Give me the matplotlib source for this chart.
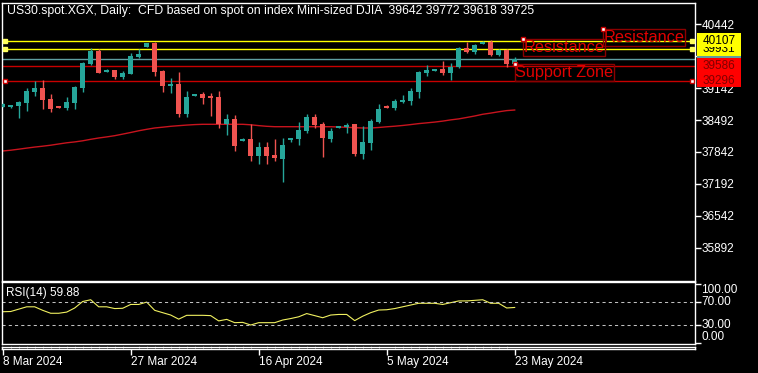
import matplotlib
matplotlib.use("Agg")
import matplotlib.pyplot as plt
import matplotlib.transforms as mtransforms
from matplotlib.patches import Rectangle

# daily bars, 8 Mar 2024 .. 23 May 2024 (sunday bars included)
opens = [38764, 38751, 38784, 38845, 39069, 39150, 38920, 38764, 38743, 38833,
         39150, 39633, 39904, 39476, 39511, 39375, 39436, 39776, 39980, 40061,
         39491, 39185, 39226, 38615, 38981, 39022, 38967, 38961, 38405, 38513,
         38071, 38106, 37765, 37937, 37780, 37704, 38085, 38106, 38275, 38554,
         38411, 38106, 38336, 38356, 38405, 37800, 38030, 38458, 38778, 38743,
         38865, 38886, 39057, 39456, 39497, 39531, 39444, 39578, 39953, 39884,
         40047, 40088, 39817, 39919, 39642]
highs = [38830, 38805, 38870, 39150, 39287, 39307, 39016, 38770, 38967, 39191,
         39680, 39953, 39939, 39525, 39520, 39491, 39851, 39933, 40070, 40075,
         39511, 39354, 39464, 39083, 39030, 39063, 39036, 39083, 38615, 38594,
         38132, 38405, 38051, 38038, 38106, 38120, 38130, 38458, 38609, 38615,
         38446, 38323, 38380, 38425, 38420, 38370, 38507, 38819, 38790, 38914,
         39002, 39138, 39491, 39613, 39540, 39694, 39648, 39974, 40075, 40041,
         40095, 40128, 39930, 39930, 39772]
lows = [38755, 38745, 38527, 38676, 38988, 38717, 38649, 38727, 38696, 38717,
        39057, 39620, 39450, 39470, 39328, 39322, 39420, 39749, 39975, 39395,
        39069, 39049, 38560, 38560, 38975, 38818, 38580, 38323, 38187, 37861,
        38060, 37657, 37596, 37596, 37663, 37236, 38045, 37983, 38234, 38323,
        37745, 38051, 38330, 38222, 37759, 37698, 37881, 38425, 38735, 38696,
        38833, 38798, 38947, 39389, 39490, 39409, 39307, 39558, 39851, 39831,
        40040, 39796, 39796, 39566, 39618]
closes = [38819, 38798, 38859, 39083, 39150, 38900, 38717, 38743, 38865, 39171,
          39660, 39898, 39456, 39517, 39375, 39456, 39796, 39837, 40061, 39476,
          39191, 39232, 38615, 38961, 39022, 38947, 38947, 38405, 38513, 37969,
          38106, 37759, 37937, 37765, 37718, 37983, 38120, 38289, 38554, 38397,
          38132, 38268, 38370, 38391, 37800, 38051, 38472, 38717, 38743, 38886,
          38906, 39089, 39476, 39511, 39531, 39444, 39566, 39953, 39884, 40020,
          40088, 39817, 39919, 39633, 39725]

# moving average drawn on the chart
ma_values = [37861, 37877, 37898, 37920, 37941, 37959, 37979, 38004, 38028, 38046,
             38069, 38099, 38126, 38148, 38173, 38205, 38238, 38273, 38303, 38330,
             38346, 38364, 38377, 38389, 38399, 38405, 38405, 38405, 38405, 38405,
             38405, 38395, 38378, 38364, 38356, 38356, 38356, 38356, 38356, 38356,
             38356, 38356, 38350, 38344, 38336, 38330, 38330, 38340, 38354, 38366,
             38381, 38399, 38419, 38434, 38450, 38470, 38495, 38515, 38544, 38574,
             38609, 38633, 38660, 38684, 38696]

# RSI(14)
rsi_values = [52.6, 53, 57, 61, 61, 55, 50, 50, 52, 59,
              70, 73, 61, 61, 58, 58.5, 65, 65, 69, 55,
              51, 47, 40, 46.5, 46.5, 46.5, 46, 37, 39.6, 34,
              34.5, 30, 34, 34, 34, 38.5, 41, 44, 49.5, 46,
              42.4, 47, 48, 48, 37.5, 45, 51, 55.5, 56, 58,
              61, 64, 67, 67, 67, 65, 68, 71, 71, 72,
              73, 67, 67, 59, 59.88]

date_labels = ["8 Mar 2024", "27 Mar 2024", "16 Apr 2024", "5 May 2024", "23 May 2024"]
price_ticks = [40442, 39792, 39142, 38492, 37842, 37192, 36542, 35892]

# horizontal levels drawn by hand
yellow_levels = [39931, 40107]
red_levels = [39586, 39296]
current_price = 39725

# text objects: (bar, price, text)
text_objects = [(75, 40346, "Resistance"), (65, 40143, "Resistance"), (64, 39633, "Support Zone")]

W, H = 758, 373
FONT = "Liberation Sans"
BULL = "#26a69a"
BEAR = "#ef5350"

fig = plt.figure(figsize=(W / 100, H / 100), dpi=100, facecolor="black")


# helper to place axes using pixel coords from the top left
def px_axes(left, top, right, bottom):
    return fig.add_axes([left / W, 1 - bottom / H, (right - left) / W, (bottom - top) / H])


ax = px_axes(2, 2.7, 695, 280.5)
ax_rsi = px_axes(2, 282.3, 695, 344)
ax_time = px_axes(2, 346.7, 695, 349)

xmin, xmax = -0.0875, 86.54
for a in (ax, ax_rsi, ax_time):
    a.set_facecolor("black")
    a.set_xlim(xmin, xmax)
    for sp in a.spines.values():
        sp.set_color("white")
        sp.set_linewidth(1)
    a.set_xticks([])

ax.set_ylim(35223, 40882)
ax_rsi.set_ylim(-2.3, 102.7)
ax_time.set_yticks([])

n = len(opens)
idx = list(range(n))

# moving average
ax.plot(idx, ma_values, color="#c8141e", lw=1, zorder=2)

# candles
for i in idx:
    o, h, l, c = opens[i], highs[i], lows[i], closes[i]
    col = BULL if c >= o else BEAR
    ax.vlines(i, l, h, color=col, lw=1, zorder=3)
    bottom = min(o, c)
    height = max(abs(c - o), 25)
    ax.bar(i, height, bottom=bottom, width=0.62, color=col, lw=0, zorder=4)

# horizontal lines
blend = mtransforms.blended_transform_factory(ax.transAxes, ax.transData)
ax.axhline(current_price, color="#5f9ea0", lw=1, zorder=2)
for lvl in yellow_levels:
    ax.axhline(lvl, color="#ffff00", lw=1, zorder=2)
    ax.plot([0.004, 0.996], [lvl, lvl], "s", ms=3.5, color="#ffff60", mec="#ffff60",
            transform=blend, clip_on=False, zorder=6)
for lvl in red_levels:
    ax.axhline(lvl, color="#c80000", lw=1, zorder=2)
ax.plot([0.004, 0.996], [red_levels[1]] * 2, "s", ms=3.5, color="white", mec="#c80000",
        mew=1, transform=blend, clip_on=False, zorder=6)

# text objects
for bar, price, label in text_objects:
    ax.text(bar + 0.1, price - 15, label, color="#e00000", fontsize=11.7, family=FONT,
            ha="left", va="top", zorder=7, clip_on=False,
            bbox=dict(boxstyle="square,pad=0.05", fc="none", ec="#8c0000", lw=1))
    ax.plot(bar, price, "s", ms=3.5, color="white", mec="#c80000", mew=1, zorder=8)

# title
ax.text(0.0072, 0.970,
        "US30.spot.XGX, Daily:  CFD based on spot on index Mini-sized DJIA  39642 39772 39618 39725",
        transform=ax.transAxes, color="white", fontsize=8.8, family=FONT, ha="left", va="center")

# right price axis
ax.yaxis.tick_right()
ax.set_yticks(price_ticks)
ax.set_yticklabels([str(p) for p in price_ticks])
ax.tick_params(axis="y", colors="white", length=4, width=1, pad=1, labelsize=8.5)
for t in ax.get_yticklabels():
    t.set_family(FONT)

# price labels on the right
label_boxes = [(current_price, "#5f9ea0", "#5f9ea0", 5),
               (yellow_levels[0], "#ffff00", "black", 6),
               (yellow_levels[1], "#ffff00", "black", 7),
               (red_levels[1], "#ff0000", "#800000", 6),
               (red_levels[0], "#ff0000", "#800000", 7)]
for price, bg, fg, z in label_boxes:
    ax.add_patch(Rectangle((1.003, price - 132), 0.063, 295, transform=blend,
                           facecolor=bg, edgecolor="none", clip_on=False, zorder=z))
    ax.text(1.0115, price, str(price), transform=blend, color=fg, fontsize=8.5,
            family=FONT, ha="left", va="center", clip_on=False, zorder=z)

# RSI panel
ax_rsi.plot(idx, rsi_values, color="#f0f060", lw=0.8)
for lvl in (70, 30):
    ax_rsi.axhline(lvl, color="#c0c0c0", lw=0.75, dashes=(3, 3))
ax_rsi.yaxis.tick_right()
ax_rsi.set_yticks([100, 70, 30, 0])
ax_rsi.set_yticklabels([])
ax_rsi.tick_params(axis="y", colors="white", length=4, width=1)
rblend = mtransforms.blended_transform_factory(ax_rsi.transAxes, ax_rsi.transData)
for val, va in [(100, "top"), (70, "center"), (30, "center"), (0, "bottom")]:
    ax_rsi.text(1.009, val, f"{val:.2f}", transform=rblend, color="white", fontsize=8.5,
                family=FONT, ha="left", va=va, clip_on=False)
ax_rsi.text(0.006, 0.82, f"RSI(14) {rsi_values[-1]:.2f}", transform=ax_rsi.transAxes,
            color="white", fontsize=8.5, family=FONT, ha="left", va="center")

# time axis with a label every 16 bars
major = [16 * i for i in range(len(date_labels))]
ax_time.set_xticks(major)
ax_time.set_xticklabels(date_labels)
ax_time.set_xticks(idx, minor=True)
ax_time.tick_params(axis="x", which="major", colors="white", length=4, width=1, pad=1,
                    labelsize=8.5)
ax_time.tick_params(axis="x", which="minor", colors="#707070", length=2, direction="in")
for t in ax_time.get_xticklabels():
    t.set_family(FONT)
    t.set_ha("left")

fig.savefig("out.png", dpi=100, facecolor="black")
